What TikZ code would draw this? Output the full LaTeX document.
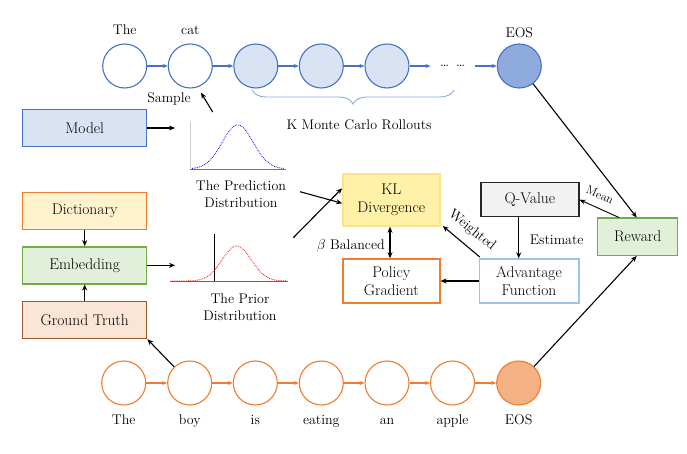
\documentclass[tikz,border=0pt]{standalone}
\usetikzlibrary{arrows.meta,decorations.pathreplacing}
\definecolor{cblue}{HTML}{4472C4}
\definecolor{clblue}{HTML}{DAE3F3}
\definecolor{ceosb}{HTML}{8FAADC}
\definecolor{corange}{HTML}{ED7D31}
\definecolor{ceoso}{HTML}{F4B183}
\definecolor{cdictf}{HTML}{FFF2CC}
\definecolor{cembf}{HTML}{E2F0D9}
\definecolor{cgreen}{HTML}{70AD47}
\definecolor{cgtf}{HTML}{FBE5D6}
\definecolor{cgtd}{HTML}{9E5A2A}
\definecolor{cklf}{HTML}{FFF2A8}
\definecolor{ckld}{HTML}{FFE38A}
\definecolor{cqf}{HTML}{F2F2F2}
\definecolor{cadvd}{HTML}{9DC3E6}
\tikzset{
  tok/.style={circle, minimum size=44pt, inner sep=0pt, line width=1.1pt},
  topc/.style={tok, draw=cblue},
  botc/.style={tok, draw=corange},
  tarrow/.style={-{Stealth[length=5pt,width=4pt]}, line width=1.1pt},
  box/.style={rectangle, line width=1.4pt, align=center, inner sep=0pt, font=\fontsize{15.5}{18}\selectfont},
  lbl/.style={font=\fontsize{14}{17}\selectfont, inner sep=0pt, align=center},
  arr/.style={-{Stealth[length=6pt,width=5pt]}, line width=1.1pt, black},
  darr/.style={{Stealth[length=6pt,width=5pt]}-{Stealth[length=6pt,width=5pt]}, line width=1.1pt, black},
}
\begin{document}
\begin{tikzpicture}[x=1pt,y=-1pt]
\useasboundingbox (0,0) rectangle (687,454);
% top sequence
\node[topc] (t1) at (124.7,66) {};
\node[topc] (t2) at (190.3,66) {};
\node[topc, fill=clblue] (t3) at (255.8,66) {};
\node[topc, fill=clblue] (t4) at (321.3,66) {};
\node[topc, fill=clblue] (t5) at (387,66) {};
\node[lbl, minimum width=44pt] (dots) at (452.7,66) {\dots\enspace\dots};
\node[topc, fill=ceosb] (teos) at (519.3,66) {};
\foreach \a/\b in {t1/t2,t2/t3,t3/t4,t4/t5,t5/dots,dots/teos}
  \draw[tarrow, cblue] (\a) -- (\b);
\node[lbl, anchor=base] (lt1) at (124.7,35) {The};
\node[lbl, anchor=base] (lt2) at (190.3,35) {cat};
\node[lbl, anchor=base] (lteos) at (519.3,38) {EOS};
% brace
\draw[ceosb, line width=0.9pt, decorate, decoration={brace, amplitude=14pt}] (454,90) -- (252,90);
\node[lbl] (kmc) at (359,125) {K Monte Carlo Rollouts};
% sample
\node[lbl] (sample) at (169,99) {Sample};
\coordinate (sa) at (212.7,112);
\coordinate (sb) at (201,92.7);
\draw[arr] (sa) -- (sb);
% bottom sequence
\node[botc] (b1) at (123.7,383) {};
\node[botc] (b2) at (189.7,383) {};
\node[botc] (b3) at (255.3,383) {};
\node[botc] (b4) at (321.3,383) {};
\node[botc] (b5) at (387,383) {};
\node[botc] (b6) at (452.5,383) {};
\node[botc, fill=ceoso] (b7) at (518.7,383) {};
\foreach \a/\b in {b1/b2,b2/b3,b3/b4,b4/b5,b5/b6,b6/b7}
  \draw[tarrow, corange] (\a) -- (\b);
\foreach \n/\t in {b1/The,b2/boy,b3/is,b4/eating,b5/an,b6/apple,b7/EOS}
  \node[lbl, anchor=base] (l\n) at ([yshift=-41.3pt]\n.center) {\t};
% left boxes
\node[box, draw=cblue, fill=clblue, minimum width=124pt, minimum height=37pt] (model) at (84.7,128) {Model};
\node[box, draw=corange, fill=cdictf, minimum width=124pt, minimum height=37pt] (dict) at (84.7,211) {Dictionary};
\node[box, draw=cgreen, fill=cembf, minimum width=124pt, minimum height=37pt] (emb) at (84.7,265.3) {Embedding};
\node[box, draw=cgtd, fill=cgtf, minimum width=124pt, minimum height=37pt] (gt) at (84.7,320) {Ground Truth};
\draw[arr] (dict) -- (emb);
\draw[arr] (gt) -- (emb);
\coordinate (pdin) at (175,128);
\coordinate (prin) at (175,265.3);
\draw[arr] (model) -- (pdin);
\draw[arr] (emb) -- (prin);
\draw[arr] (b2) -- (gt.south east);
% prediction distribution
\draw[black!20, line width=0.8pt] (190,121.7) -- (190,169);
\draw[black!55, line width=0.8pt] (190,169) -- (286,169);
\draw[blue, densely dotted, line width=0.8pt] plot[domain=192:284, samples=80, smooth] (\x, {169 - 44*exp(-((\x-237.7)/15.5)^2/2)});
\node[lbl] (pdl) at (241,194.3) {The Prediction\\Distribution};
% prior distribution
\draw[black!60, line width=0.8pt] (170,281) -- (288,281);
\draw[black, line width=0.9pt] (214,234) -- (214,281);
\draw[red, densely dotted, line width=0.8pt] plot[domain=172:287, samples=90, smooth] (\x, {281 - 35*exp(-((\x-236.7)/14.5)^2/2)});
\node[lbl] (prl) at (240,307.3) {The Prior\\Distribution};
% centre boxes
\node[box, draw=ckld, fill=cklf, minimum width=97pt, minimum height=52pt] (kl) at (391.3,200) {KL\\Divergence};
\node[box, draw=corange, fill=white, minimum width=97pt, minimum height=44pt] (pg) at (391.3,281) {Policy\\Gradient};
\node[box, draw=black!85, fill=cqf, minimum width=98pt, minimum height=34pt] (qv) at (529.8,199.7) {Q-Value};
\node[box, draw=cadvd, fill=white, minimum width=99.6pt, minimum height=44pt] (adv) at (529,281) {Advantage\\Function};
\node[box, draw=cgreen, fill=cembf, minimum width=80pt, minimum height=37pt] (reward) at (637.7,236.7) {Reward};
% connectors into KL
\coordinate (pdo) at (300,191.7);
\coordinate (pro) at (293.3,237.7);
\draw[arr] (pdo) -- ([yshift=-3.3pt]kl.west);
\draw[arr] (pro) -- ([yshift=11.7pt]kl.west);
\draw[darr] ([xshift=-1.3pt]kl.south) -- ([xshift=-1.3pt]pg.north);
\node[lbl] (beta) at (350.8,246) {$\beta$ Balanced};
\draw[arr] ([xshift=-11.1pt]qv.south) -- ([xshift=-10.3pt]adv.north);
\node[lbl] (est) at (556.7,240) {Estimate};
\draw[arr] ([xshift=1.3pt,yshift=1.3pt]adv.north west) -- ([xshift=2.3pt,yshift=0.7pt]kl.south east);
\node[lbl, rotate=-38.7, font=\fontsize{14}{17}\selectfont] (wgt) at (472,230.5) {Weighted};
\draw[arr] (adv) -- (pg);
\draw[arr] (teos) -- ([xshift=-1pt]reward.north);
\draw[arr] (b7) -- ([xshift=-1pt]reward.south);
\draw[arr, line width=0.9pt] ([xshift=-18.7pt]reward.north) -- (qv.east);
\node[lbl, rotate=-24, font=\fontsize{12}{14}\selectfont] (mean) at (600,195) {Mean};
\end{tikzpicture}
\end{document}
